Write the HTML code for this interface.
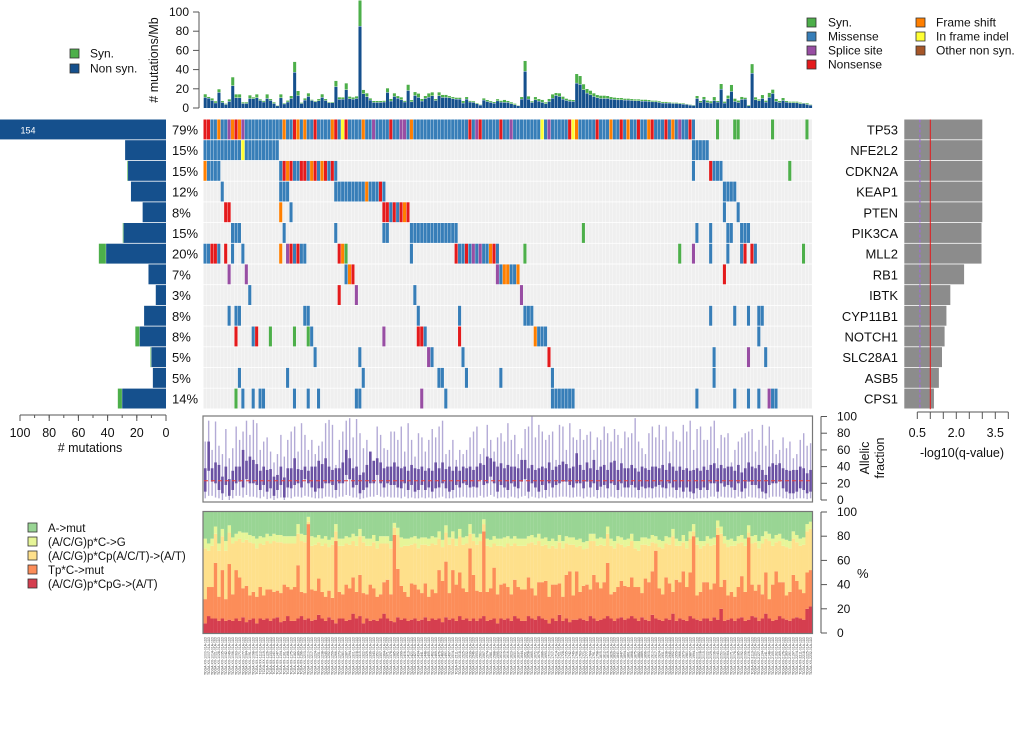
<!DOCTYPE html>
<html><head><meta charset="utf-8"><style>
html,body{margin:0;padding:0;background:#fff;}
svg{display:block;font-family:"Liberation Sans",sans-serif;}
</style></head><body>
<svg id="c" width="1020" height="744" viewBox="0 0 1020 744" xmlns="http://www.w3.org/2000/svg">
<g id="legTL">
<rect x="70" y="49" width="9" height="9" fill="#4daf4a" stroke="#333" stroke-width="0.8"/>
<text x="90" y="57.5" font-size="12" fill="#111">Syn.</text>
<rect x="70" y="64" width="9" height="9" fill="#15508d" stroke="#333" stroke-width="0.8"/>
<text x="90" y="72.5" font-size="12" fill="#111">Non syn.</text>
</g>
<g>
<rect x="807" y="18" width="9" height="9" fill="#4daf4a" stroke="#333" stroke-width="0.8"/>
<text x="828" y="26.5" font-size="12" fill="#111">Syn.</text>
<rect x="807" y="32" width="9" height="9" fill="#377eb8" stroke="#333" stroke-width="0.8"/>
<text x="828" y="40.5" font-size="12" fill="#111">Missense</text>
<rect x="807" y="46" width="9" height="9" fill="#984ea3" stroke="#333" stroke-width="0.8"/>
<text x="828" y="54.5" font-size="12" fill="#111">Splice site</text>
<rect x="807" y="60" width="9" height="9" fill="#e41a1c" stroke="#333" stroke-width="0.8"/>
<text x="828" y="68.5" font-size="12" fill="#111">Nonsense</text>
<rect x="916" y="18" width="9" height="9" fill="#ff7f00" stroke="#333" stroke-width="0.8"/>
<text x="936" y="26.5" font-size="12" fill="#111">Frame shift</text>
<rect x="916" y="32" width="9" height="9" fill="#ffff33" stroke="#333" stroke-width="0.8"/>
<text x="936" y="40.5" font-size="12" fill="#111">In frame indel</text>
<rect x="916" y="46" width="9" height="9" fill="#a65628" stroke="#333" stroke-width="0.8"/>
<text x="936" y="54.5" font-size="12" fill="#111">Other non syn.</text>
</g>
<g>
<rect x="28" y="523" width="9" height="9" fill="#99d594" stroke="#333" stroke-width="0.8"/>
<text x="48" y="532" font-size="11.5" fill="#111">A-&gt;mut</text>
<rect x="28" y="537" width="9" height="9" fill="#e6f598" stroke="#333" stroke-width="0.8"/>
<text x="48" y="546" font-size="11.5" fill="#111">(A/C/G)p*C-&gt;G</text>
<rect x="28" y="551" width="9" height="9" fill="#fee08b" stroke="#333" stroke-width="0.8"/>
<text x="48" y="560" font-size="11.5" fill="#111">(A/C/G)p*Cp(A/C/T)-&gt;(A/T)</text>
<rect x="28" y="565" width="9" height="9" fill="#fc8d59" stroke="#333" stroke-width="0.8"/>
<text x="48" y="574" font-size="11.5" fill="#111">Tp*C-&gt;mut</text>
<rect x="28" y="579" width="9" height="9" fill="#d53e4f" stroke="#333" stroke-width="0.8"/>
<text x="48" y="588" font-size="11.5" fill="#111">(A/C/G)p*CpG-&gt;(A/T)</text>
</g>
<g id="g"></g>
</svg>
<script>
const genes=["TP53","NFE2L2","CDKN2A","KEAP1","PTEN","PIK3CA","MLL2","RB1","IBTK","CYP11B1","NOTCH1","SLC28A1","ASB5","CPS1"];
const pctLabels=["79%","15%","15%","12%","8%","15%","20%","7%","3%","8%","8%","5%","5%","14%"];
const geneNonSyn=[154,28,26,24,16,29,41,12,7,15,18,10,9,30];
const geneSyn=[0,0,0.6,0,0,0.6,5,0,0,0,3,0.6,0,3];
const qvals=[3.0,3.0,3.0,3.0,3.0,2.97,2.97,2.3,1.77,1.62,1.55,1.45,1.33,1.14];
const rowSegs=[
["0-142:m","0:n","1:n","4:f","7:s","8:f","9:n","10:f","11:s","23:f","26:n","27:f","29:f","32:n","37:f","38:n","40:y","41:n","46:f","49:s","54:n","57:s","58:s","60:f","77:n","79:s","80:n","86:n","89:s","98:y","100:s","106:n","107:y","108:f","114:n","118:f","121:n","123:f","126:n","129:f","130:n","134:n","136:f","138:s","141:n","149:g","154-155:g","165:g","175:g"],
["0-21:m","11:y","142-146:m"],
["0:f","1-4:m","22-38:m","23:n","24:f","25:n","28:n","29:n","31:f","32:n","34:f","35:n","37:n","142:m","147:n","148-150:m","170:g"],
["5:m","22-24:m","38-52:m","47:f","51:n","151-154:m"],
["6-7:n","22:f","25:m","52-59:n","54:m","56:m","58:f","151:m","155:m"],
["8-10:m","23:m","38:m","52-53:m","60-73:m","110:g","143:m","147:m","152-153:m","156-158:m"],
["0-4:m","2:n","3:n","6:n","8:m","11:m","22:f","24:s","25:n","26:m","27:n","28-29:m","39:n","40:f","41:g","60:m","73-85:m","73:n","76:n","78:s","80:s","83:f","84:n","93:g","138:g","142:s","147:m","152:m","156:m","157:n","159:n","160:m","174:g"],
["7:s","12:s","41:m","42:f","43:n","85:s","86:m","87-88:f","89-90:m","91:f","151:n"],
["13:m","39:n","44:s","61:m","92:s"],
["7:m","9-10:m","29-30:m","62:m","74:m","93-95:m","147:m","154:m","158:m","161-162:m"],
["9:n","14:m","15:n","19:g","26:g","30:g","31:m","52:s","62-63:n","64:m","74:n","96:f","97-99:m","161:m"],
["32:m","45:m","65:s","66:m","75:m","100:n","148:m","158:s","163:m"],
["10:m","24:m","46:m","68-69:m","76:m","86:m","101:m","148:m"],
["9:g","11:m","14:m","16-17:m","26:m","30:m","33:m","44-45:m","63:s","70:m","101-107:m","143:m","154:m","158:m","161:m","164:s","165-166:m"]
];
const tmbNonSyn=[10.8,10,7.6,5,16,5.5,3.5,6.6,23,10.4,10.4,4.5,4.5,9.7,9.4,10.4,7.6,6,9.7,7.6,4.5,2,10.4,4,6,9.7,37,12.8,4.5,8,11.8,7.6,6.2,7.3,10.8,7.6,5.2,5.2,22,8.7,9,18.8,9.4,9,9.7,85,14.6,11.5,8,5.6,5.6,5.6,6,16,7,11.8,10,8.3,6,18,6.2,12.8,10.8,7,9.7,11,12.5,7.6,12.5,10.8,10.8,10.4,9.4,9,9,4.9,9,6,5.6,4.2,2.8,8,6.5,5.6,4.8,7.2,5.9,5.6,5.6,4.2,3.1,2.1,9,38,9,5.6,8.3,6.9,5.6,4.2,6.6,10,12.8,11.8,9,7.6,6.9,6.6,25.7,24.3,18.8,15.3,13.5,11.8,10.4,9.7,9.7,9.7,9,8.7,8.3,8.3,8,8,7.6,7.3,7.3,6.9,6.9,6.6,6.2,6.2,5.6,4.9,4.9,4.9,4.5,4.5,4.2,3.8,3.5,2.8,2.4,9.7,5.6,8.7,5.6,4.9,7.6,5.9,19.4,4.9,9.4,17,6.6,5.6,8.7,9,2.1,36,8.3,7.3,9.7,5.9,10.8,14.9,6.6,5.6,7.6,5.9,5.2,5.2,5.2,4.2,4.5,3.5,2.8];
const tmbSyn=[3.5,1.5,2.4,2,3.5,1.7,1,2.4,9,3.8,3.8,1.4,1.4,3.5,1.7,3.8,1.4,1.4,4.5,1.7,1.4,0.7,3.8,1,1.7,2.8,11,4.9,1,2,3.5,1,1,2,3.5,1.7,1,1,6.2,2.4,2,6.9,2.4,2,2.4,30,4.2,3.8,2,1.7,1.7,1.7,1.5,4.5,2.4,3.5,2.4,2.8,1.4,6.2,2,3.8,4.2,2.4,2.8,4.2,3.8,1.7,3.8,2.8,2.8,2,2,1.7,1.7,2.4,2.4,1.4,1.4,1,0.7,2,1.8,1.5,1.4,2,1.6,2.8,1.7,1.7,1.4,0.7,2.4,11,3.1,1.4,3.1,2.4,2.8,1.7,2.8,4.2,2.8,3.5,2.8,2.1,1.7,1.7,9.7,9,5.9,4.5,4.5,3.5,3.1,3.1,3.1,2.8,2.4,2.1,2.1,2.1,1.7,1.7,1.7,1.7,1.7,1.7,1.7,1.7,1.4,1.4,1.4,1.4,1.4,1,1,1,1,1,0.7,0.7,0.7,2.8,1.7,2.8,2.1,2.1,3.8,1.4,5.6,1.7,3.5,7,3.1,2.1,2.8,1.7,1,9.7,2.8,1.7,3.8,1.7,4.9,4.2,2.8,1.7,2.8,1.4,1.4,1.4,1.4,1.4,0.7,1.4,0.7,0.7];
const afHi=[70,95,60,94,65,55,85,50,62,88,72,82,95,78,96,92,60,70,75,58,45,55,78,52,72,82,88,58,92,78,60,72,55,65,70,92,96,90,42,72,82,95,98,75,97,80,62,72,55,45,88,78,62,60,82,82,72,88,58,92,72,52,80,75,58,72,85,75,88,95,55,60,72,48,60,55,60,75,82,88,55,62,90,72,58,75,80,70,92,72,78,55,62,85,88,100,75,90,82,72,78,82,48,90,88,60,92,75,72,85,72,78,82,60,75,72,88,80,70,85,78,62,82,75,80,98,70,62,55,80,88,75,90,72,88,58,82,72,70,90,82,95,60,85,88,72,72,88,95,62,78,75,80,45,60,70,75,80,82,85,58,72,90,65,88,72,55,60,75,62,70,50,55,72,80,65,68,60];
const afQ3=[38,70,38,45,42,28,40,25,35,40,40,60,47,52,48,43,35,40,36,37,28,30,40,27,38,38,50,37,36,40,35,40,40,47,43,50,40,36,38,38,45,60,50,38,40,30,33,42,58,47,50,45,38,40,40,45,40,38,40,35,42,38,37,40,35,38,35,45,38,45,37,40,35,40,35,40,38,40,36,40,44,42,52,50,46,40,44,38,42,40,40,38,48,48,38,42,36,38,40,38,45,36,40,42,46,43,38,40,56,42,36,45,38,48,36,40,42,36,45,47,36,44,38,38,42,38,34,40,38,36,40,40,38,42,36,44,40,35,40,36,38,35,36,38,35,40,36,42,44,38,42,38,40,40,35,42,33,38,45,40,38,42,36,30,40,44,42,44,38,36,35,36,36,40,38,32,36,35];
const afQ1=[10,35,22,20,12,8,18,5,12,20,22,15,25,20,20,18,12,18,10,14,5,12,18,3,15,14,18,20,15,25,20,15,10,14,14,20,20,18,12,20,20,30,25,15,18,8,12,15,20,20,30,20,15,20,18,18,15,14,20,12,18,10,12,18,12,15,10,14,15,20,14,10,12,18,15,20,18,15,16,15,24,18,20,28,20,10,18,15,12,20,16,14,22,25,10,20,15,10,18,12,20,15,18,20,22,22,18,15,20,20,14,22,15,20,12,16,18,14,20,18,12,20,15,15,18,15,12,16,14,15,14,16,18,15,14,20,15,12,15,10,15,10,8,14,12,15,12,20,20,10,20,16,18,15,12,20,10,14,22,18,18,14,10,8,18,20,20,22,14,10,8,8,10,14,12,8,10,10];
const afLo=[2,5,5,3,2,0,4,0,2,5,5,3,6,4,4,3,2,4,1,2,0,2,3,0,3,2,4,4,3,5,4,3,2,2,2,4,4,3,2,4,4,6,5,3,3,1,2,3,4,4,6,4,3,4,3,3,3,2,4,2,3,2,2,3,2,3,2,2,3,4,2,2,2,3,3,4,3,3,3,3,5,3,4,6,4,2,3,3,2,4,3,2,4,5,2,4,3,2,3,2,4,3,3,4,4,4,3,3,4,4,2,4,3,4,2,3,3,2,4,3,2,4,3,3,3,3,2,3,2,3,2,3,3,3,2,4,3,2,3,2,3,2,1,2,2,3,2,4,4,2,4,3,3,3,2,4,2,2,4,3,3,2,2,1,3,4,4,4,2,2,1,1,2,2,2,1,2,2];
const spCpG=[8,14,12,12,10,12,10,11,10,12,10,13,9,11,12,8,12,11,12,10,12,13,9,10,14,10,10,12,14,11,12,10,11,15,12,10,13,11,8,12,12,10,11,16,12,14,8,12,10,11,10,12,16,12,10,9,13,11,12,10,11,12,10,11,13,10,12,11,12,9,13,11,12,10,14,11,12,10,12,10,12,14,10,11,12,8,12,11,12,10,14,12,10,10,14,12,11,14,12,11,8,12,10,15,10,12,9,11,11,12,11,10,14,12,10,11,12,14,12,10,12,13,11,12,14,12,10,13,11,10,15,12,11,10,12,11,16,10,12,11,10,14,12,11,10,12,12,10,13,11,20,10,11,12,10,12,13,10,11,14,13,10,12,16,12,10,11,14,12,11,10,12,13,12,11,20,22,0];
const spTpC=[20,24,26,46,20,40,18,46,22,40,36,24,30,20,22,22,26,20,24,26,22,22,24,30,24,26,28,44,20,22,78,26,24,30,22,20,22,18,68,22,20,30,26,30,22,34,25,20,30,26,20,20,26,32,22,72,40,28,22,20,30,28,26,22,28,20,24,22,40,34,46,22,40,30,36,26,22,60,36,25,22,70,24,26,42,24,28,30,26,22,30,26,26,26,32,25,20,28,30,32,22,28,30,26,20,36,42,20,40,22,28,30,22,36,32,26,30,44,20,24,26,30,28,26,32,26,28,20,34,32,36,56,26,22,34,30,18,34,30,40,28,36,68,20,24,30,30,26,28,70,18,34,20,22,20,26,34,24,68,26,22,30,20,34,16,30,40,28,30,20,24,36,30,24,22,30,30,0];
const spCpA=[42,30,34,24,38,28,40,26,42,24,32,38,38,44,40,40,36,42,40,38,42,40,42,34,36,38,36,26,42,42,2,36,38,30,38,44,36,44,8,38,40,34,36,30,38,32,42,40,32,38,40,42,32,30,38,6,28,32,38,42,32,34,34,40,32,42,38,40,26,28,24,40,26,32,30,36,40,12,28,38,42,6,38,34,20,40,32,30,36,40,30,34,36,36,28,38,42,34,30,30,40,32,30,34,40,26,22,42,20,38,30,30,40,28,30,36,30,24,40,36,36,30,32,34,30,32,30,40,28,30,24,6,34,38,28,32,46,28,30,24,32,28,4,42,36,30,32,36,32,6,44,30,40,38,42,36,28,38,4,34,40,30,42,28,48,32,24,34,30,40,36,30,32,36,40,34,34,100];
const spCG=[8,6,6,6,6,6,8,6,5,6,6,8,6,6,6,8,6,6,6,6,6,6,6,6,6,6,6,8,6,6,4,8,6,6,6,6,6,6,6,6,6,6,6,6,8,6,5,6,6,6,6,6,6,6,6,4,6,8,6,6,6,6,8,6,6,6,6,6,6,6,6,6,6,6,6,6,6,8,6,6,6,4,6,6,6,6,6,8,6,6,6,6,6,6,6,6,6,6,6,6,6,6,6,6,6,6,6,6,6,6,6,6,6,6,6,6,6,6,6,6,6,6,6,6,6,6,8,6,6,6,6,6,6,6,6,6,6,6,4,6,6,6,6,6,6,4,6,6,6,6,6,6,6,6,4,6,6,6,6,6,6,6,6,6,6,6,6,6,6,6,6,6,6,6,6,6,6,0];

const NS="http://www.w3.org/2000/svg";
const G=document.getElementById('g');
const N=tmbNonSyn.length;
const X0=203.5,X1=812.3,CW=(X1-X0)/N;
const colX=i=>X0+i*CW;
const ROW0=119.5,RH=20.7;
const rowY=r=>ROW0+r*RH;
const tmbY=v=>108-Math.min(v,112)*0.96;
const leftX=v=>166-v*1.46;
const qX=v=>904.3+v*26;
const afY=v=>500-v*0.835;
const spY=v=>633-v*1.21;
const COL={m:"#377eb8",n:"#e41a1c",s:"#984ea3",g:"#4daf4a",f:"#ff7f00",y:"#ffff33",o:"#a65628"};
function mk(tag,attrs,parent){const e=document.createElementNS(NS,tag);for(const k in attrs)e.setAttribute(k,attrs[k]);(parent||G).appendChild(e);return e;}
function txt(x,y,s,attrs){const e=mk('text',Object.assign({x:x,y:y},attrs||{}));e.textContent=s;return e;}

let e;
e=mk('line',{x1:199,y1:tmbY(0),x2:199,y2:tmbY(100),stroke:'#555','stroke-width':1});


[0,20,40,60,80,100].forEach(t=>{
 e=mk('line',{x1:193,y1:tmbY(t),x2:199,y2:tmbY(t),stroke:'#555'});
 
 
 e=txt(189,tmbY(t)+4,String(t),{'font-size':12,'text-anchor':'end',fill:'#111'});
 
 
});
e=txt(0,0,'# mutations/Mb',{'font-size':12.5,'text-anchor':'middle',fill:'#111',transform:'translate(158,60) rotate(-90)'});


for(let i=0;i<N;i++){
 const yn=tmbY(tmbNonSyn[i]);
 e=mk('rect',{x:colX(i)+0.2,y:yn,width:CW-0.4,height:108-yn,fill:'#15508d'});
 
 
 const ys=Math.max(0,tmbY(tmbNonSyn[i]+tmbSyn[i]));
 e=mk('rect',{x:colX(i)+0.2,y:ys,width:CW-0.4,height:Math.max(0,yn-ys-0.4),fill:'#4daf4a'});
 
 
}
for(let r=0;r<genes.length;r++){
 const arr=new Array(N).fill(null);
 rowSegs[r].forEach(s=>{const [rng,t]=s.split(':');const p=rng.split('-').map(Number);const a=p[0],b=p.length>1?p[1]:p[0];for(let c=a;c<=b&&c<N;c++)arr[c]=t;});
 for(let c=0;c<N;c++){
  e=mk('rect',{x:colX(c),y:rowY(r),width:CW-0.35,height:RH-0.8,fill:arr[c]?COL[arr[c]]:'#efefef'});
  
  
 }
 const xn=Math.max(0,leftX(geneNonSyn[r]));
 e=mk('rect',{x:xn,y:rowY(r),width:166-xn,height:RH-0.8,fill:'#15508d'});
 
 
 if(geneSyn[r]>0){
  const xs=Math.max(0,leftX(geneNonSyn[r]+geneSyn[r]));
  e=mk('rect',{x:xs,y:rowY(r),width:Math.max(0.6,xn-xs-0.3),height:RH-0.8,fill:'#4daf4a'});
  
  
 }
 if(geneNonSyn[r]>100){
  e=txt(28,rowY(r)+14,String(geneNonSyn[r]),{'font-size':9,fill:'#fff','text-anchor':'middle'});
  
  
 }
 e=txt(172,rowY(r)+15,pctLabels[r],{'font-size':13,fill:'#111'});
 
 
 e=txt(898,rowY(r)+15,genes[r],{'font-size':13,fill:'#111','text-anchor':'end'});
 
 
 e=mk('rect',{x:qX(0),y:rowY(r),width:qX(qvals[r])-qX(0),height:RH-0.8,fill:'#8c8c8c'});
 
 
}
e=mk('line',{x1:leftX(100),y1:415,x2:leftX(0),y2:415,stroke:'#555'});


[0,20,40,60,80,100].forEach(t=>{
 e=mk('line',{x1:leftX(t),y1:415,x2:leftX(t),y2:421,stroke:'#555'});
 
 
});
[0,10,20,30,40,50,60,70,80,90,100].forEach(t=>{
 e=mk('line',{x1:leftX(t),y1:415,x2:leftX(t),y2:418,stroke:'#555'});
 
 
});
[0,20,40,60,80,100].forEach(t=>{
 e=txt(leftX(t),437,String(t),{'font-size':12.5,'text-anchor':'middle',fill:'#111'});
 
 
});
e=txt(90,452,'# mutations',{'font-size':12.5,'text-anchor':'middle',fill:'#111'});


e=mk('line',{x1:qX(0.6),y1:ROW0,x2:qX(0.6),y2:rowY(14),stroke:'#9b6fd0','stroke-width':1.3,'stroke-dasharray':'3,2'});


e=mk('line',{x1:qX(1),y1:ROW0,x2:qX(1),y2:rowY(14),stroke:'#e41a1c','stroke-width':1});


e=mk('line',{x1:qX(0.5),y1:412,x2:qX(4),y2:412,stroke:'#555'});


[0.5,1,1.5,2,2.5,3,3.5,4].forEach(t=>{
 e=mk('line',{x1:qX(t),y1:412,x2:qX(t),y2:419,stroke:'#555'});
 
 
});
[0.5,2.0,3.5].forEach(t=>{
 e=txt(qX(t),437,t.toFixed(1),{'font-size':12.5,'text-anchor':'middle',fill:'#111'});
 
 
});
e=txt(962,457,'-log10(q-value)',{'font-size':12.5,'text-anchor':'middle',fill:'#111'});


e=mk('rect',{x:203,y:416,width:609.5,height:86,fill:'none',stroke:'#777','stroke-width':1.2});


for(let i=0;i<N;i++){
 const cx=colX(i)+CW/2;
 e=mk('line',{x1:cx,y1:afY(afHi[i]),x2:cx,y2:afY(afLo[i]),stroke:'#b3aad6','stroke-width':1.4});
 
 
 e=mk('rect',{x:cx-1.3,y:afY(afQ3[i]),width:2.6,height:afY(afQ1[i])-afY(afQ3[i]),fill:'#6a51a3'});
 
 
}
e=mk('line',{x1:204,y1:afY(23),x2:812,y2:afY(23),stroke:'#e8413c','stroke-width':1,'stroke-dasharray':'4,3'});


e=mk('line',{x1:821,y1:afY(0),x2:821,y2:afY(100),stroke:'#555'});


[0,20,40,60,80,100].forEach(t=>{
 e=mk('line',{x1:821,y1:afY(t),x2:827,y2:afY(t),stroke:'#555'});
 
 
 e=txt(837,afY(t)+4,String(t),{'font-size':12,fill:'#111'});
 
 
});
e=txt(0,0,'Allelic',{'font-size':12.5,'text-anchor':'middle',fill:'#111',transform:'translate(869,458) rotate(-90)'});


e=txt(0,0,'fraction',{'font-size':12.5,'text-anchor':'middle',fill:'#111',transform:'translate(884,458) rotate(-90)'});


const SPC=['#d53e4f','#fc8d59','#fee08b','#e6f598','#99d594'];
const SPN=['spectrum-cpg','spectrum-tpc','spectrum-cpa','spectrum-cg','spectrum-a-mut'];
for(let i=0;i<N;i++){
 const vals=[spCpG[i],spTpC[i],spCpA[i],spCG[i]];
 const tot=vals.reduce((a,b)=>a+b,0);
 vals.push(Math.max(0,100-tot));
 let acc=0;
 for(let k=0;k<5;k++){
  const y1=spY(Math.min(100,acc+vals[k])),y0=spY(acc);
  acc+=vals[k];
  if(y0-y1<=0)continue;
  e=mk('rect',{x:colX(i),y:y1,width:CW+0.1,height:y0-y1,fill:SPC[k]});
  
  
 }
}
e=mk('rect',{x:203,y:511.5,width:609.5,height:122,fill:'none',stroke:'#777','stroke-width':1.2});


e=mk('line',{x1:821,y1:spY(0),x2:821,y2:spY(100),stroke:'#555'});


[0,20,40,60,80,100].forEach(t=>{
 e=mk('line',{x1:821,y1:spY(t),x2:827,y2:spY(t),stroke:'#555'});
 
 
 e=txt(837,spY(t)+4,String(t),{'font-size':12,fill:'#111'});
 
 
});
e=txt(857,578,'%',{'font-size':13,fill:'#111'});


for(let i=0;i<N;i++){
 const cx=colX(i)+CW/2+1.2;
 e=txt(0,0,'TCGA-XX-'+String(1000+i*7).slice(0,4)+'-01A-11D',{'font-size':3.4,fill:'#444','text-anchor':'end',transform:'translate('+cx+',637) rotate(-90)'});
 
 
}
</script>
</body></html>
